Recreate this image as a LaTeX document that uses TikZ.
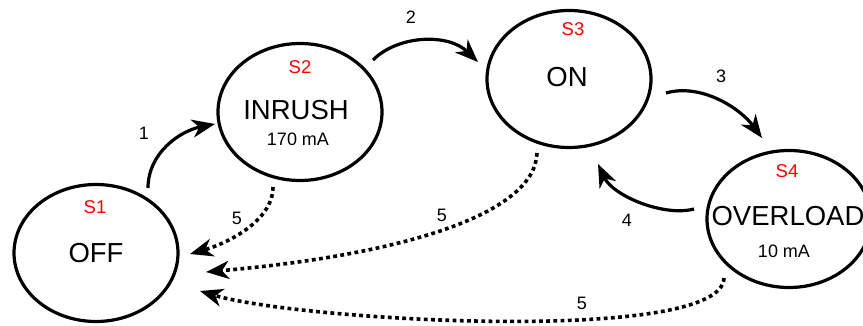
\documentclass[tikz,border=0pt]{standalone}
\usepackage{fontspec}
\setmainfont{Liberation Sans}
\usetikzlibrary{shapes.geometric,arrows.meta,calc}
\begin{document}
\begin{tikzpicture}[x=1pt,y=-1pt,
  state/.style={ellipse,draw,line width=3.2pt,minimum width=164pt,minimum height=137pt,inner sep=0pt},
  tag/.style={text=red,font=\fontsize{18.5}{20}\selectfont,inner sep=0pt},
  big/.style={font=\fontsize{27.5}{30}\selectfont,inner sep=0pt},
  sub/.style={font=\fontsize{18}{20}\selectfont,inner sep=0pt},
  elabel/.style={font=\fontsize{18}{20}\selectfont,inner sep=0pt},
  solidarrow/.style={line width=3.2pt,-{Stealth[length=23pt,width=18pt,inset=7pt]}},
  dotarrow/.style={solidarrow,line width=3.6pt,dash pattern=on 3.8pt off 3.4pt}]
\clip (0,0) rectangle (863,326);
\fill[white] (0,0) rectangle (863,326);

\node[state] (s1) at (96,253) {};
\node[state] (s2) at (300,112) {};
\node[state] (s3) at (569,79) {};
\node[state] (s4) at (789,219) {};

\node[tag] (t1) at (95,207) {S1};
\node[big] (m1) at (96,253) {OFF};
\node[tag] (t2) at (300,67) {S2};
\node[big] (m2) at (296,110) {INRUSH};
\node[sub] (u2) at (298,139) {170 mA};
\node[tag] (t3) at (573,29) {S3};
\node[big] (m3) at (567,77) {ON};
\node[tag] (t4) at (787,171) {S4};
\node[big] (m4) at (788,216) {OVERLOAD};
\node[sub] (u4) at (784,251) {10 mA};

\draw[solidarrow] ($(s1)+(52,-65)$) .. controls +(0,-35) and +(-35,7) .. ($(s2)+(-85,12)$);
\draw[solidarrow] ($(s2)+(73,-52)$) .. controls +(25,-25) and +(-30,-29) .. ($(s3)+(-91,-17)$);
\draw[solidarrow] ($(s3)+(97,14)$) .. controls +(35,-10) and +(-22,-30) .. ($(s4)+(-27,-81)$);
\draw[solidarrow] ($(s4)+(-95,-10)$) .. controls +(-30,8) and +(15,32) .. ($(s3)+(29,85)$);
\draw[dotarrow] ($(s2)+(-27,75)$) .. controls +(0,35) and +(35,-10) .. ($(s1)+(94,1)$);
\draw[dotarrow] ($(s3)+(-32,74)$) .. controls +(-2,62) and +(194,-17) .. ($(s1)+(110,19)$);
\draw[dotarrow] ($(s4)+(-65,59)$) .. controls +(-2,67) and +(100,30) .. ($(s1)+(104,38)$);

\node[elabel] (l1) at (144,133) {1};
\node[elabel] (l2) at (411,17) {2};
\node[elabel] (l3) at (721,76) {3};
\node[elabel] (l4) at (627,220) {4};
\node[elabel] (l5a) at (237,218) {5};
\node[elabel] (l5b) at (442,215) {5};
\node[elabel] (l5c) at (582,303) {5};
\end{tikzpicture}
\end{document}
